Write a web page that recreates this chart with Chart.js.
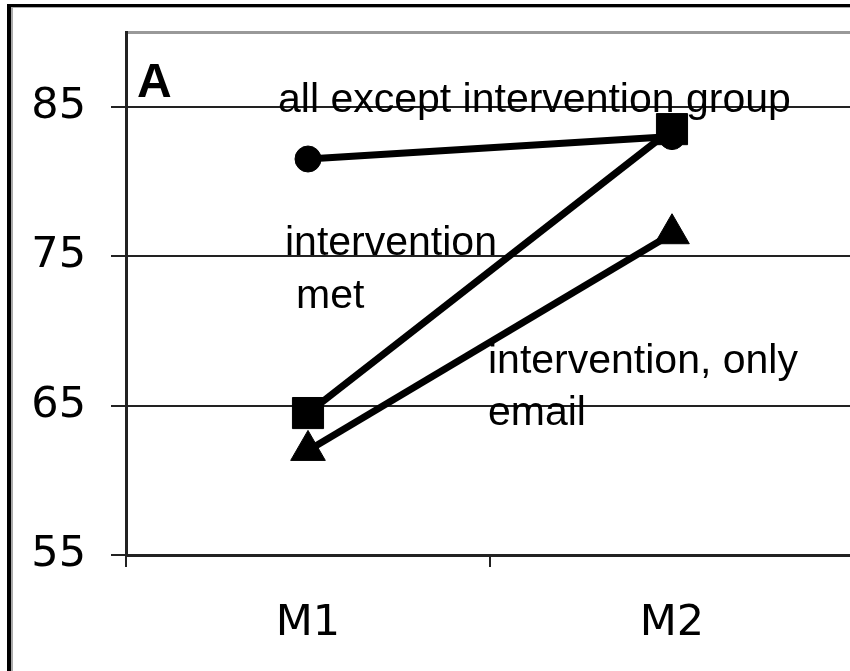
<!DOCTYPE html>
<html>
<head>
<meta charset="utf-8">
<script src="https://cdn.jsdelivr.net/npm/chart.js@4/dist/chart.umd.min.js"></script>
<style>
  html, body { margin: 0; padding: 0; background: #fff; overflow: hidden; }
  body { width: 850px; height: 671px; position: relative; }
  #frame { position: absolute; left: 7px; top: 4px; width: 900px; height: 700px;
           border-left: 4px solid #000; border-top: 3px solid #000; }
  #frameInner { position: absolute; left: 11px; top: 7px; width: 900px; height: 700px;
                border-left: 2px solid #aaa; border-top: 1px solid #aaa; }
  #chart { position: absolute; left: 0; top: 0; }
</style>
</head>
<body>
<div id="frame"></div>
<div id="frameInner"></div>
<canvas id="chart" width="860" height="671"></canvas>
<script>
const categories = ["M1", "M2"];
const allExcept = [81.5, 83.0];
const interventionMet = [64.5, 83.5];
const interventionEmail = [62.0, 76.5];
const yTicks = [55, 65, 75, 85, 90]; // 90 is the top edge, no label

// text written inside the plot (left x, baseline y in pixels)
const notes = [
  { text: "A", x: 137, y: 97, bold: true },
  { text: "all except intervention group", x: 278, y: 112 },
  { text: "intervention", x: 285, y: 255 },
  { text: "met", x: 296, y: 308 },
  { text: "intervention, only", x: 488, y: 373 },
  { text: "email", x: 488, y: 425 }
];

const notesPlugin = {
  id: "notes",
  afterDraw(chart) {
    const ctx = chart.ctx;
    ctx.save();
    ctx.fillStyle = "#000";
    ctx.textBaseline = "alphabetic";
    ctx.textAlign = "left";
    notes.forEach(n => {
      ctx.font = n.bold ? "bold 48px 'Liberation Sans'" : "41px 'Liberation Sans'";
      ctx.fillText(n.text, n.x, n.y);
    });
    ctx.restore();
  }
};

// no extra room for tick labels, the plot box is fixed
function noPadding(s) {
  s.paddingTop = 0;
  s.paddingBottom = 0;
  s.paddingLeft = 0;
  s.paddingRight = 0;
}

const lineStyle = {
  borderColor: "#000",
  backgroundColor: "#000",
  pointBackgroundColor: "#000",
  pointBorderColor: "#000",
  pointBorderWidth: 1,
  borderWidth: 7,
  tension: 0,
  fill: false
};

new Chart(document.getElementById("chart"), {
  type: "line",
  data: {
    labels: categories,
    datasets: [
      { ...lineStyle, label: "all except intervention group", data: allExcept,
        pointStyle: "circle", pointRadius: 13, order: 2 },
      { ...lineStyle, label: "intervention met", data: interventionMet,
        pointStyle: "rect", pointRadius: 22, order: 0 },
      { ...lineStyle, label: "intervention, only email", data: interventionEmail,
        pointStyle: "triangle", pointRadius: 20, order: 1 }
    ]
  },
  options: {
    responsive: false,
    animation: false,
    layout: { autoPadding: false, padding: { top: 32, right: 6, left: 0, bottom: 0 } },
    plugins: { legend: { display: false }, tooltip: { enabled: false } },
    scales: {
      x: {
        offset: true,
        afterFit: s => { s.height = 116; noPadding(s); },
        grid: { drawOnChartArea: false, offset: true, color: "#222", lineWidth: 2, tickLength: 12 },
        border: { display: true, color: "#222", width: 3 },
        ticks: { color: "#000", padding: 31, font: { family: "DejaVu Sans", size: 43 } }
      },
      y: {
        min: 55,
        max: 90,
        afterFit: s => { s.width = 126; noPadding(s); },
        afterBuildTicks: s => { s.ticks = yTicks.map(v => ({ value: v })); },
        grid: {
          color: c => (c.tick && c.tick.value === 90) ? "#999" : "#222",
          tickColor: c => (c.tick && c.tick.value === 90) ? "rgba(0,0,0,0)" : "#222",
          lineWidth: c => (c.tick && c.tick.value === 90) ? 3 : 2,
          tickLength: 15
        },
        border: { display: true, color: "#222", width: 3 },
        ticks: {
          color: "#000",
          padding: 25,
          font: { family: "DejaVu Sans", size: 43 },
          callback: v => v === 90 ? "" : String(v)
        }
      }
    }
  },
  plugins: [notesPlugin]
});
</script>
</body>
</html>
